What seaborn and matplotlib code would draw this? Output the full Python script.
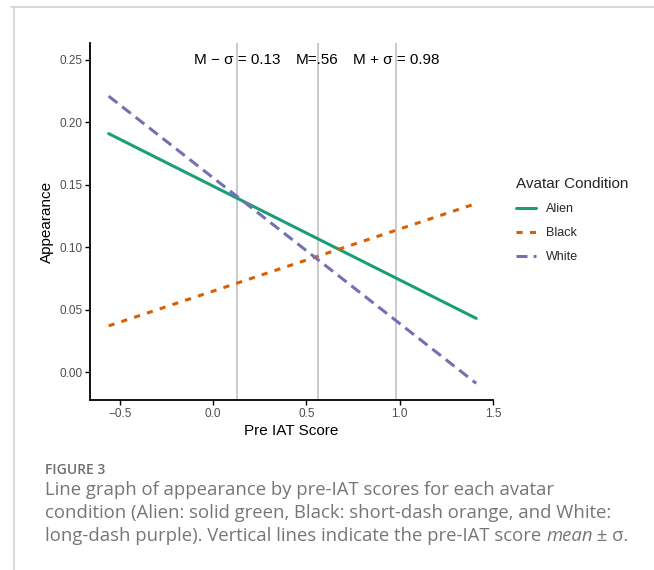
import matplotlib
matplotlib.use("Agg")
import matplotlib.pyplot as plt
import seaborn as sns
import pandas as pd
from matplotlib.lines import Line2D

# ---- data ----
conditions = ["Alien", "Black", "White"]
x_ends = [-0.56, 1.41]
alien_y = [0.191, 0.043]
black_y = [0.037, 0.135]
white_y = [0.221, -0.009]
vlines = [0.13, 0.56, 0.98]
vline_labels = ["M \u2212 \u03c3 = 0.13", "M=.56", "M + \u03c3 = 0.98"]
xticks = [-0.5, 0.0, 0.5, 1.0, 1.5]
yticks = [0.00, 0.05, 0.10, 0.15, 0.20, 0.25]
colors = {"Alien": "#1B9E77", "Black": "#D95F02", "White": "#7570B3"}

df = pd.DataFrame({
    "Pre IAT Score": x_ends * 3,
    "Appearance": alien_y + black_y + white_y,
    "Avatar Condition": ["Alien"] * 2 + ["Black"] * 2 + ["White"] * 2,
})

sns.set_theme(style="white")
plt.rcParams["font.family"] = ["Liberation Sans", "DejaVu Sans"]

fig = plt.figure(figsize=(6.54, 5.70), dpi=100)
ax = fig.add_axes([0.1376, 0.2982, 0.7538 - 0.1376, 0.9246 - 0.2982])

for xv in vlines:
    ax.axvline(xv, color="#bdbdbd", lw=1.1, zorder=1)

dashes = {"Alien": "", "Black": (2.0, 2.4), "White": (3.6, 2.0)}
sns.lineplot(data=df, x="Pre IAT Score", y="Appearance", hue="Avatar Condition",
             style="Avatar Condition", dashes=dashes, palette=colors,
             hue_order=conditions, style_order=conditions,
             linewidth=2.2, ax=ax, zorder=3)

for xv, lab in zip(vlines, vline_labels):
    ax.text(xv, 0.25, lab, ha="center", va="center", fontsize=11, color="black",
            family=["Liberation Sans", "DejaVu Sans"], zorder=4)

ax.set_xlim(-0.66, 1.5)
ax.set_ylim(-0.0224, 0.2636)
ax.set_xticks(xticks)
ax.set_xticklabels(["\u22120.5", "0.0", "0.5", "1.0", "1.5"])
ax.set_yticks(yticks)
ax.set_yticklabels([f"{v:.2f}" for v in yticks])
ax.tick_params(axis="both", which="both", length=3.5, width=1, color="black",
               labelsize=8.5, labelcolor="#4d4d4d", bottom=True, left=True, pad=2)
for s in ["top", "right"]:
    ax.spines[s].set_visible(False)
for s in ["left", "bottom"]:
    ax.spines[s].set_color("black")
    ax.spines[s].set_linewidth(1.3)
ax.set_xlabel("Pre IAT Score", fontsize=11, color="black", labelpad=3)
ax.set_ylabel("Appearance", fontsize=11, color="black", labelpad=4)

leg = ax.get_legend()
handles = leg.legend_handles
labels = [t.get_text() for t in leg.get_texts()]
leg.remove()
leg = ax.legend(handles=handles, labels=labels, title="Avatar Condition",
                loc="upper left", bbox_to_anchor=(1.03, 0.655), frameon=False,
                fontsize=9, title_fontsize=11, handlelength=1.6,
                labelspacing=0.95, alignment="left")
for h in leg.legend_handles:
    h.set_linewidth(2.2)

# frame lines
fig.add_artist(Line2D([11 / 654, 1.0], [1 - 7 / 570, 1 - 7 / 570], color="#d3d3d3", lw=1.2))
fig.add_artist(Line2D([14 / 654, 14 / 654], [1 - 7 / 570, 0.0], color="#d3d3d3", lw=1.2))

# caption
cap_font = ["Open Sans", "DejaVu Sans"]
cap_size = 13.3
cap_color = "#767676"
cap_x = 45 / 654
fig.text(cap_x, 1 - 470 / 570, "FIGURE 3", fontsize=10, color="#6e6e6e",
         family=cap_font, weight="semibold", va="center", ha="left")
cap_lines = [
    "Line graph of appearance by pre-IAT scores for each avatar",
    "condition (Alien: solid green, Black: short-dash orange, and White:",
]
for i, line in enumerate(cap_lines):
    fig.text(cap_x, 1 - (490 + 23 * i) / 570, line, fontsize=cap_size, color=cap_color,
             family=cap_font, va="center", ha="left")
t1 = fig.text(cap_x, 1 - 536 / 570,
              "long-dash purple). Vertical lines indicate the pre-IAT score ",
              fontsize=cap_size, color=cap_color, family=cap_font, va="center", ha="left")
t2 = ax.annotate("mean", xy=(1, 0), xycoords=t1, va="bottom", ha="left",
                 fontsize=cap_size, color=cap_color, family=cap_font, style="italic",
                 annotation_clip=False)
ax.annotate(" \u00b1 \u03c3.", xy=(1, 0), xycoords=t2, va="bottom", ha="left",
            fontsize=cap_size, color=cap_color, family=cap_font, annotation_clip=False)

fig.savefig("out.png", dpi=100)
